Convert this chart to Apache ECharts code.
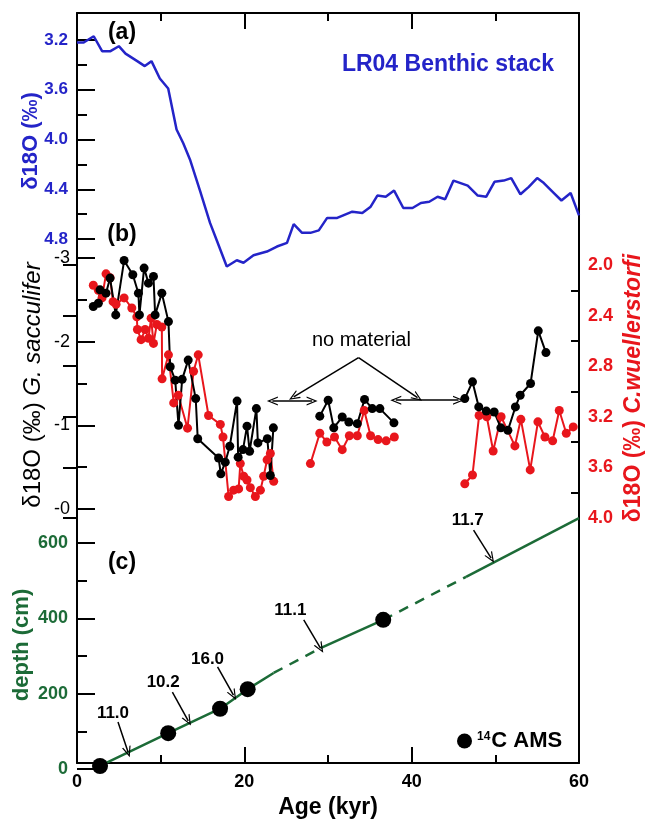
<!DOCTYPE html>
<html>
<head>
<meta charset="utf-8">
<script src="https://cdn.jsdelivr.net/npm/echarts@6.0.0/dist/echarts.min.js"></script>
<style>html,body{margin:0;padding:0;background:#fff}#c{width:647px;height:824px}</style>
</head>
<body>
<div id="c"></div>
<script>
// ---------- DATA ----------
// (a) LR04 benthic stack
const lr04Age = [0,0.8,2,3,4,5,5.8,7.2,8.1,8.9,9.9,10.9,11.9,12.7,13.5,14.7,15.9,16.7,17.9,19.1,19.9,21.1,22.7,23.9,25.1,25.9,26.9,27.9,28.9,29.9,31.1,32.9,34.1,35.1,35.9,36.9,37.9,39,40.1,41.1,42.1,43.1,44,45,46.7,47.9,48.9,49.9,51,51.9,53,54,55,55.8,57,57.9,59,60];
const lr04Val = [3.22,3.22,3.17,3.29,3.29,3.25,3.31,3.37,3.41,3.37,3.51,3.59,3.92,4.03,4.16,4.41,4.67,4.81,5.02,4.97,4.99,4.93,4.90,4.86,4.83,4.68,4.75,4.75,4.73,4.63,4.63,4.58,4.59,4.54,4.45,4.46,4.41,4.55,4.55,4.51,4.50,4.46,4.48,4.33,4.37,4.45,4.46,4.34,4.33,4.31,4.44,4.38,4.31,4.35,4.43,4.49,4.43,4.61];

// (b) G. sacculifer (black), three sampled intervals
const sacAge1 = [1.95,2.55,2.75,3.47,3.95,4.63,5.63,6.67,7.34,7.46,8.02,8.54,9.14,9.34,10.14,10.93,11.14,11.74,12.13,12.57,13.29,14.19,14.43,16.92,17.19,17.72,18.26,19.13,19.26,19.84,20.32,20.63,21.44,21.62,22.75,23.11,23.47];
const sacVal1 = [-2.42,-2.46,-2.62,-2.58,-2.76,-2.32,-2.97,-2.80,-2.58,-2.32,-2.88,-2.70,-2.78,-2.32,-2.58,-2.24,-1.70,-1.54,-1.00,-1.55,-1.78,-1.32,-0.84,-0.61,-0.42,-0.56,-0.75,-1.29,-0.62,-0.71,-0.99,-0.69,-1.20,-0.79,-0.84,-0.40,-0.97];
const sacAge2 = [29.02,30.02,30.69,31.70,32.49,33.50,34.37,35.29,36.20,37.88];
const sacVal2 = [-1.11,-1.30,-0.97,-1.10,-1.04,-1.02,-1.31,-1.20,-1.20,-1.03];
const sacAge3 = [46.35,47.27,48.02,48.92,49.86,50.66,51.50,52.40,52.97,54.21,55.13,56.05];
const sacVal3 = [-1.32,-1.52,-1.22,-1.17,-1.16,-0.97,-0.94,-1.22,-1.36,-1.50,-2.13,-1.87];

// (b) C. wuellerstorfi (red), three sampled intervals
const wueAge1 = [1.95,2.55,2.99,3.47,3.95,4.31,4.67,5.63,6.55,7.15,7.22,7.66,8.14,8.54,8.86,9.14,9.54,10.14,10.17,10.93,11.56,12.10,13.21,13.93,14.49,15.72,17.13,17.45,18.12,18.72,19.32,19.52,19.92,20.32,20.72,21.32,21.92,22.31,22.72,23.11,23.51];
const wueVal1 = [2.16,2.20,2.26,2.07,2.10,2.29,2.31,2.26,2.34,2.41,2.51,2.59,2.51,2.58,2.42,2.62,2.47,2.49,2.90,2.71,3.09,3.03,3.29,2.84,2.71,3.19,3.26,3.36,3.83,3.78,3.77,3.57,3.67,3.70,3.76,3.83,3.78,3.67,3.54,3.49,3.71];
const wueAge2 = [27.90,29.02,29.86,30.78,31.70,32.55,33.50,34.33,35.09,35.99,36.95,37.93];
const wueVal2 = [3.57,3.33,3.40,3.36,3.46,3.35,3.35,3.15,3.35,3.38,3.39,3.36];
const wueAge3 = [46.35,47.27,48.06,48.98,49.74,50.69,52.34,53.05,54.17,55.09,55.93,56.85,57.64,58.48,59.31];
const wueVal3 = [3.73,3.66,3.19,3.20,3.47,3.20,3.43,3.22,3.62,3.24,3.36,3.39,3.15,3.33,3.28];

// (c) age-depth model
const amsAge = [2.75,10.9,17.1,20.4,36.6];
const amsDepth = [8,95,160,212,396];
const modelAge = [2.75,10.9,17.1,20.4,23.5,29.1,36.6,46.5,60];
const modelDepth = [8,95,160,212,255,321,396,510,666];
const modelSolid = [[0,4],[5,6],[7,8]];   // index ranges drawn solid
const modelDashed = [[4,5],[6,7]];        // index ranges drawn dashed

// sedimentation-rate annotations (c)
const rateText = ['11.0','10.2','16.0','11.1','11.7'];
const rateTextPos = [[4.3,149],[10.3,231],[15.6,292],[25.5,422],[46.7,661]];
const rateArrowFrom = [[4.9,125],[11.4,204],[16.8,271],[27.1,396],[47.4,634]];
const rateArrowTo = [[6.1,45],[13.3,128],[18.7,196],[29.1,321],[49.5,560]];

// "no material" annotation (b, G. sacculifer axis)
const gapArrows = [[[23.35,-1.29],[28.1,-1.29]],[[38.1,-1.30],[45.6,-1.30]]];
const gapLegs = [[[33.65,-1.81],[25.9,-1.34]],[[33.65,-1.81],[40.7,-1.33]]];
const gapTextPos = [34.0,-2.02];

// tick values
const xTicks = {min:0, max:60, interval:20};
const aMajor = [3.2,3.6,4.0,4.4,4.8], aMinor = [3.4,3.8,4.2,4.6];
const bMajor = [-3,-2,-1,0], bMinor = [-2.5,-1.5,-0.5];
const rMajor = [2.0,2.4,2.8,3.2,3.6,4.0], rMinor = [2.2,2.6,3.0,3.4,3.8];
const cMajor = [0,200,400,600], cMinor = [100,300,500];

// ---------- STYLE ----------
const FONT = 'Liberation Sans, Arial, sans-serif';
const BLUE = '#2424c8', RED = '#e8161c', GREEN = '#1c6b37', BLACK = '#000';
const OPEN_ARROW = 'path://M5,0 L10,10 L8.6,10 L5,2.8 L1.4,10 L0,10 Z';
const zip = (a,b) => a.map((v,i)=>[v,b[i]]);
const slice = (r) => zip(modelAge.slice(r[0],r[1]+1), modelDepth.slice(r[0],r[1]+1));

const L = 77, R = 647-579;
function hiddenX(gi){ return {type:'value', gridIndex:gi, min:0, max:60, show:false}; }
function yTicks(gi, pos, min, max, inverse, major, minor, len, mlen, label){
  const base = {type:'value', gridIndex:gi, position:pos, min, max, inverse,
    axisLine:{show:false}, splitLine:{show:false}};
  return [
    Object.assign({}, base, {
      axisTick:{show:true, inside:true, length:len, customValues:major, lineStyle:{color:BLACK,width:2}},
      axisLabel: Object.assign({show:true, customValues:major, fontFamily:FONT}, label)
    }),
    Object.assign({}, base, {
      axisTick:{show:true, inside:true, length:mlen, customValues:minor, lineStyle:{color:BLACK,width:2}},
      axisLabel:{show:false}
    })
  ];
}
const frameX = (pos, showLabel) => ({
  type:'value', gridIndex:0, position:pos, min:xTicks.min, max:xTicks.max, interval:xTicks.interval,
  axisLine:{show:true, onZero:false, lineStyle:{color:BLACK,width:2}},
  axisTick:{show:true, inside:true, length:16, lineStyle:{color:BLACK,width:2}},
  minorTick:{show:true, splitNumber:2, length:8, lineStyle:{color:BLACK,width:2}},
  splitLine:{show:false}, minorSplitLine:{show:false},
  axisLabel:{show:showLabel, margin:10, color:BLACK, fontSize:18, fontWeight:'bold', fontFamily:FONT},
  name: showLabel ? 'Age (kyr)' : '', nameLocation:'middle', nameGap:33,
  nameTextStyle:{color:BLACK, fontSize:23, fontWeight:'bold', fontFamily:FONT}
});
const frameY = (pos) => ({type:'value', gridIndex:0, position:pos, min:0, max:1,
  axisLine:{show:true, onZero:false, lineStyle:{color:BLACK,width:2}},
  axisTick:{show:false}, axisLabel:{show:false}, splitLine:{show:false}});

const yAxes = [frameY('left'), frameY('right')]
  .concat(yTicks(1,'left',3.0,5.1,true,aMajor,aMinor,18,10,
      {color:BLUE,fontSize:17,fontWeight:'bold',margin:9,formatter:v=>v.toFixed(1)}))
  .concat(yTicks(2,'left',-3.2,0,true,bMajor,bMinor,18,10,
      {color:BLACK,fontSize:18,margin:7,formatter:v=> v===0 ? '-0' : String(v)}))
  .concat(yTicks(3,'right',1.8,4.0,true,rMajor,rMinor,14,8,
      {color:RED,fontSize:18,fontWeight:'bold',margin:9,formatter:v=>v.toFixed(1)}))
  .concat(yTicks(4,'left',0,680,false,cMajor,cMinor,18,10,
      {color:GREEN,fontSize:18,fontWeight:'bold',margin:9}));
// y axis indices: 0,1 frame; 2,3 (a); 4,5 (b left); 6,7 (b right); 8,9 (c)

const ptSeries = (name, age, val, xi, yi, color) => ({
  name, type:'line', xAxisIndex:xi, yAxisIndex:yi, data:zip(age,val),
  symbol:'circle', symbolSize:9, showSymbol:true, lineStyle:{color, width:2},
  itemStyle:{color}, z:3, animation:false
});
const arrowSym = {symbol:OPEN_ARROW, symbolSize:[9,11]};
const textOnly = {symbolSize:1, itemStyle:{color:'rgba(0,0,0,0)', opacity:1}, silent:true, animation:false};

const series = [
  {type:'line', xAxisIndex:2, yAxisIndex:2, data:zip(lr04Age,lr04Val), symbol:'none',
   lineStyle:{color:BLUE,width:2.5}, animation:false},
  ptSeries('wue1', wueAge1, wueVal1, 4, 6, RED),
  ptSeries('wue2', wueAge2, wueVal2, 4, 6, RED),
  ptSeries('wue3', wueAge3, wueVal3, 4, 6, RED),
  Object.assign(ptSeries('sac1', sacAge1, sacVal1, 3, 4, BLACK), {
    markLine:{silent:true, animation:false, label:{show:false},
      lineStyle:{color:BLACK, width:1.5, type:'solid'},
      data: gapArrows.map(p=>[Object.assign({coord:p[0]},arrowSym),Object.assign({coord:p[1]},arrowSym)])
        .concat(gapLegs.map(p=>[{coord:p[0],symbol:'none'},Object.assign({coord:p[1]},arrowSym)]))}
  }),
  ptSeries('sac2', sacAge2, sacVal2, 3, 4, BLACK),
  ptSeries('sac3', sacAge3, sacVal3, 3, 4, BLACK),
  Object.assign({type:'scatter', xAxisIndex:3, yAxisIndex:4, data:[gapTextPos.concat(['no material'])],
   label:{show:true, position:'inside', formatter:p=>p.value[2], color:BLACK, opacity:1, fontSize:20, fontFamily:FONT}}, textOnly),
];
modelSolid.forEach((r,i)=>series.push({type:'line', xAxisIndex:5, yAxisIndex:8, data:slice(r), symbol:'none',
  lineStyle:{color:GREEN,width:2.5}, animation:false, z:2,
  markLine: i===0 ? {silent:true, animation:false, label:{show:false}, lineStyle:{color:BLACK,width:1.5,type:'solid'},
    data: rateArrowFrom.map((f,k)=>[{coord:f,symbol:'none'},Object.assign({coord:rateArrowTo[k]},arrowSym)])} : undefined}));
modelDashed.forEach(r=>series.push({type:'line', xAxisIndex:5, yAxisIndex:8, data:slice(r), symbol:'none',
  lineStyle:{color:GREEN,width:2.5,type:[10,8]}, animation:false, z:2}));
series.push({name:'14C AMS', type:'scatter', xAxisIndex:5, yAxisIndex:8, data:zip(amsAge,amsDepth),
  symbol:'circle', symbolSize:16, itemStyle:{color:BLACK, opacity:1}, z:4, animation:false});
series.push(Object.assign({type:'scatter', xAxisIndex:5, yAxisIndex:8, data:rateTextPos.map((p,k)=>p.concat([rateText[k]])),
  label:{show:true, position:'inside', formatter:p=>p.value[2], color:BLACK, opacity:1, fontSize:17, fontWeight:'bold', fontFamily:FONT}}, textOnly));

const txt = (x,y,text,style,rot) => ({type:'text', x, y, rotation:rot||0, silent:true,
  style:Object.assign({text, align:'center', verticalAlign:'middle', fontFamily:FONT}, style)});

const option = {
  animation:false,
  textStyle:{fontFamily:FONT},
  grid:[
    {left:L, right:R, top:13, bottom:55},
    {left:L, right:R, top:15.1, bottom:824-276.4},
    {left:L, right:R, top:241.3, bottom:824-509},
    {left:L, right:R, top:239.7, bottom:824-518},
    {left:L, right:R, top:769-680*0.37667, bottom:55}
  ],
  xAxis:[frameX('bottom',true), frameX('top',false), hiddenX(1), hiddenX(2), hiddenX(3), hiddenX(4)],
  yAxis:yAxes,
  legend:{data:['14C AMS'], left:452, top:725, icon:'circle', itemWidth:15, itemHeight:15, itemGap:5,
    formatter:()=> '{s|14}{t|C AMS}',
    textStyle:{rich:{s:{fontSize:12, fontWeight:'bold', fontFamily:FONT, color:BLACK, padding:[0,1,9,0]},
                     t:{fontSize:22, fontWeight:'bold', fontFamily:FONT, color:BLACK}}}},
  graphic:[
    txt(122,33,'(a)',{fontSize:23,fontWeight:'bold',fill:BLACK}),
    txt(122,235,'(b)',{fontSize:23,fontWeight:'bold',fill:BLACK}),
    txt(122,563,'(c)',{fontSize:23,fontWeight:'bold',fill:BLACK}),
    txt(448,65,'LR04 Benthic stack',{fontSize:23,fontWeight:'bold',fill:BLUE}),
    txt(31,141,'δ18O (‰)',{fontSize:22,fontWeight:'bold',fill:BLUE},Math.PI/2),
    txt(33,385,'{a|δ18O (‰) }{b|G. sacculifer}',{fill:BLACK,
      rich:{a:{fontSize:24,fontFamily:FONT,fill:BLACK},b:{fontSize:24,fontStyle:'italic',fontFamily:FONT,fill:BLACK}}},Math.PI/2),
    txt(22,645,'depth (cm)',{fontSize:22,fontWeight:'bold',fill:GREEN},Math.PI/2),
    txt(634,388,'{a|δ18O (‰) }{b|C.wuellerstorfi}',{fill:RED,
      rich:{a:{fontSize:23,fontWeight:'bold',fontFamily:FONT,fill:RED},b:{fontSize:23,fontWeight:'bold',fontStyle:'italic',fontFamily:FONT,fill:RED}}},Math.PI/2)
  ],
  series
};
const chart = echarts.init(document.getElementById('c'), null, {renderer:'canvas'});
chart.setOption(option);
</script>
</body>
</html>
